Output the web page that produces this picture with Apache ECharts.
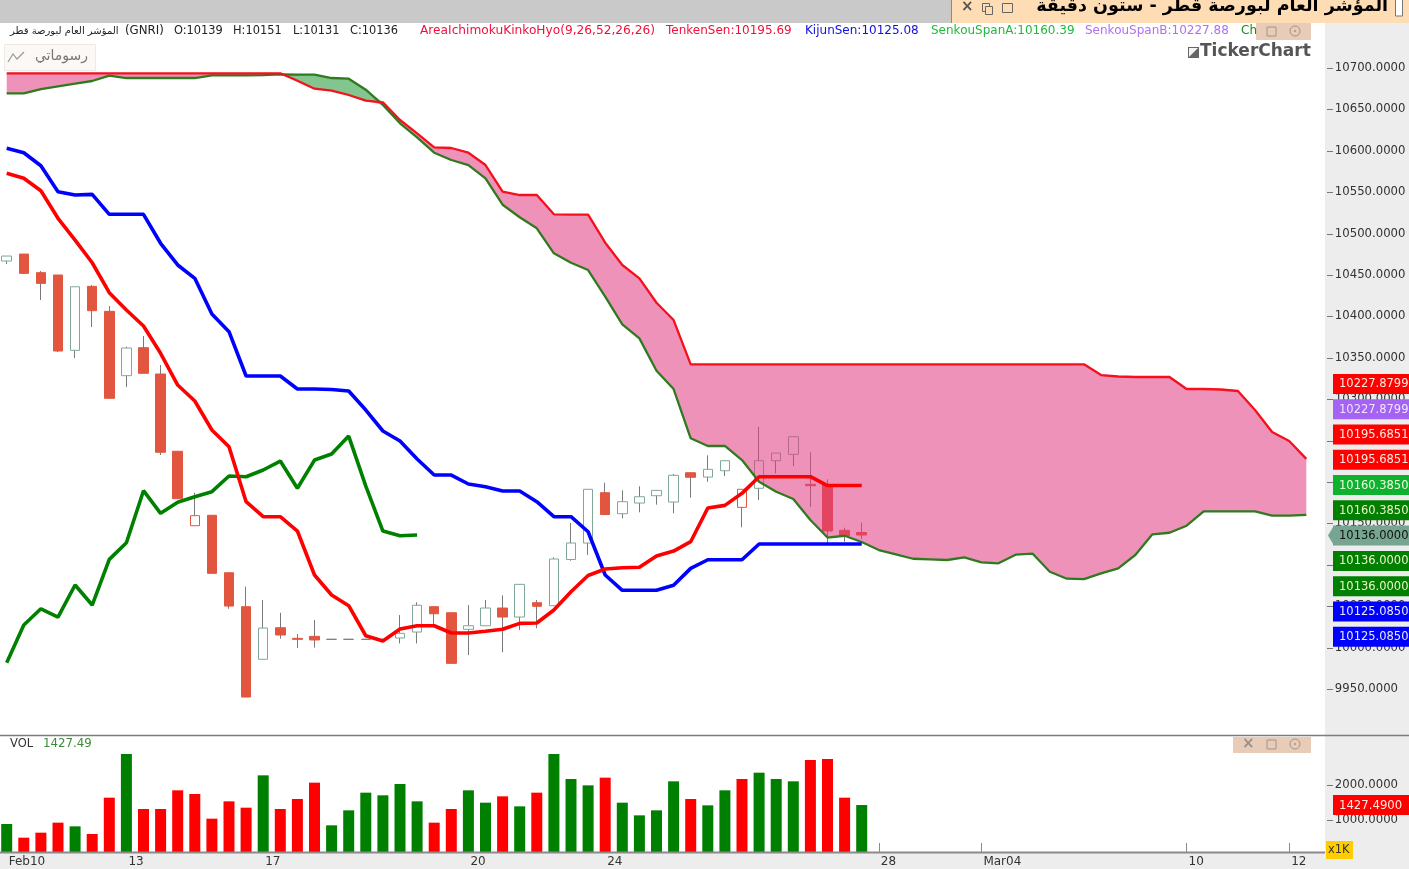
<!DOCTYPE html>
<html lang="ar">
<head>
    <meta charset="UTF-8">
    <title>GNRI Ichimoku</title>
    <script src="https://cdn.jsdelivr.net/npm/echarts@6/dist/echarts.min.js"></script>
    <style>
        html, body { margin: 0; height: 100%; background: #fff; overflow: hidden; }
        #chart { width: 1409px; height: 869px; }
    </style>
</head>
<body>
<div id="chart"></div>
<script>
    // candle values
    var opens = [10466.9, 10475.3, 10452.8, 10450, 10359, 10436.3, 10406.1, 10328.4, 10362.2, 10330.4, 10237.1, 10147.2, 10159.8, 10090.4, 10049.4, 9985.9, 10024, 10011.2, 10013.6, 10010, 10010, 10010, 10010, 10011.6, 10018.8, 10049.4, 10042.1, 10022.1, 10026.4, 10047.8, 10036.9, 10054.2, 10050.6, 10106.4, 10126.3, 10187.1, 10161.7, 10174.6, 10183.4, 10175.8, 10211.2, 10206, 10213.6, 10169.4, 10192.4, 10225.7, 10233.4, 10197.2, 10196.4, 10141.6, 10139];
    var closes = [10472.9, 10452, 10439.9, 10358.2, 10435.8, 10406.9, 10301.1, 10361.8, 10331.3, 10235.9, 10179.8, 10159.3, 10089.7, 10050.2, 9940.3, 10023.6, 10015.2, 10010, 10009.2, 10010, 10010, 10010, 10010, 10017.2, 10051.1, 10040.9, 9981, 10026.4, 10047.8, 10036.9, 10076.4, 10049.9, 10107, 10126.3, 10191.2, 10160.7, 10176.2, 10182.2, 10189.9, 10208.1, 10205.7, 10215.3, 10225.7, 10191.2, 10225.7, 10235, 10254.7, 10195.5, 10140.8, 10134.8, 10136];
    var lows = [10463.3, 10451.2, 10419.8, 10357, 10349.7, 10387.2, 10301.1, 10314.7, 10331.3, 10232.6, 10179.8, 10147.2, 10089.7, 10046.9, 9940.3, 9985.9, 10010.7, 9999.5, 9999.9, 10010, 10010, 10010, 10010, 10005.1, 10005.1, 10027.3, 9981, 9991, 10026.4, 9994.3, 10021.2, 10023.3, 10050.6, 10104.9, 10111.8, 10160.7, 10156.1, 10163.4, 10172.6, 10162.2, 10181, 10200.3, 10207.2, 10145.3, 10178.2, 10210.5, 10219.3, 10170.1, 10126, 10127.9, 10131];
    var highs = [10472.9, 10475.3, 10454.8, 10450, 10435.8, 10437.9, 10412.5, 10363.4, 10376.3, 10341.3, 10237.1, 10187.1, 10159.8, 10090.4, 10073.5, 10057.5, 10042.1, 10016.4, 10033.3, 10010, 10010, 10010, 10010, 10039.3, 10054.7, 10049.4, 10042.1, 10051.4, 10057.5, 10063.1, 10076.4, 10057.5, 10109, 10150.5, 10191.2, 10199.1, 10189.9, 10194.8, 10189.9, 10209.6, 10211.2, 10232.2, 10225.7, 10191.2, 10266.8, 10235, 10254.7, 10235.8, 10203.2, 10144.8, 10151];
    var hollowRed = [11, 43];
    var flatCandles = [19, 20, 21, 22];

    // ichimoku lines
    var tenkan = [10572.8, 10566.8, 10551.8, 10518.5, 10492.2, 10464.8, 10428.6, 10407.7, 10388.4, 10355.4, 10317.1, 10297.8, 10262.8, 10242.6, 10176.2, 10158.1, 10158.1, 10140.8, 10087.7, 10063.5, 10050.6, 10014.3, 10007.9, 10022.4, 10026.4, 10026.4, 10017.6, 10017.6, 10019.7, 10022.1, 10029.3, 10029.7, 10045.4, 10067.5, 10087.1, 10094.9, 10096.5, 10097, 10110.6, 10116.6, 10127.9, 10168.6, 10171.8, 10186.3, 10206.4, 10206.4, 10206.4, 10206.4, 10195.69, 10195.69, 10195.69];
    var kijun = [10603, 10597.7, 10582, 10550.6, 10546.6, 10547.4, 10523.3, 10523.3, 10523.3, 10488.3, 10462.1, 10446, 10402.9, 10381.5, 10328, 10328, 10328, 10312.3, 10312.3, 10311.7, 10309.9, 10286.9, 10261.6, 10249.5, 10227.8, 10208.4, 10208.4, 10197.6, 10194.3, 10189.1, 10189.1, 10176.2, 10158.1, 10158.1, 10139.9, 10087.7, 10069.2, 10069.2, 10069.2, 10075.2, 10095.7, 10106.1, 10106.1, 10106.1, 10125.08, 10125.08, 10125.08, 10125.08, 10125.08, 10125.08, 10125.08];
    var chikou = [9981.7, 10027.3, 10046.9, 10036.9, 10075.6, 10051.4, 10106.6, 10126.7, 10189.5, 10162.2, 10175.5, 10182.2, 10188.3, 10207.2, 10206.4, 10214.5, 10225.3, 10192.4, 10226.5, 10233.8, 10255.5, 10195.1, 10140.8, 10135.1, 10136];
    var spanA = [10669.4, 10669.4, 10674.6, 10677.9, 10681, 10684.3, 10690.7, 10687.9, 10687.9, 10687.9, 10687.9, 10687.9, 10691.2, 10691.2, 10691.2, 10691.5, 10692.4, 10691.9, 10691.9, 10687.9, 10687.1, 10673.8, 10655.3, 10633.2, 10616.3, 10597.7, 10588.9, 10582.8, 10566.8, 10534.9, 10519.7, 10506.4, 10476.2, 10464.8, 10456, 10423.8, 10390.4, 10373.5, 10334.4, 10312.3, 10252.8, 10243.5, 10243.5, 10226.5, 10200.3, 10188.3, 10179.4, 10154.1, 10132.9, 10135.1, 10127.5, 10117.8, 10112.6, 10107.3, 10106.6, 10105.8, 10109, 10103, 10101.8, 10112.2, 10113.4, 10091.6, 10083.2, 10082.8, 10089.7, 10095.7, 10111.8, 10136.8, 10138.7, 10147.2, 10164.6, 10164.6, 10164.6, 10164.6, 10159.3, 10159.3, 10160.39];
    var spanB = [10693.6, 10693.6, 10693.6, 10693.6, 10693.6, 10693.6, 10693.6, 10693.6, 10693.6, 10693.6, 10693.6, 10693.6, 10693.6, 10693.6, 10693.6, 10693.6, 10693.6, 10684.6, 10675, 10672.6, 10667.4, 10660.5, 10658.5, 10637.2, 10621.1, 10604.2, 10603.4, 10597.7, 10582.8, 10550.6, 10546.6, 10546.6, 10523.3, 10522.8, 10522.8, 10489, 10462.1, 10446, 10416.5, 10395.6, 10342.1, 10342.1, 10342.1, 10342.1, 10342.1, 10342.1, 10342.1, 10342.1, 10342.1, 10342.1, 10342.1, 10342.1, 10342.1, 10342.1, 10342.1, 10342.1, 10342.1, 10342.1, 10342.1, 10342.1, 10342.1, 10342.1, 10342.1, 10342.1, 10329.2, 10327.4, 10326.8, 10326.8, 10326.8, 10312.3, 10312.3, 10311.7, 10309.9, 10286.9, 10260.4, 10249.5, 10227.88];

    // volume, 1 = green bar, 0 = red bar
    var volumes = [886, 495, 638, 924, 819, 600, 1638, 2886, 1314, 1314, 1848, 1743, 1038, 1533, 1352, 2276, 1314, 1600, 2067, 848, 1276, 1781, 1705, 2029, 1533, 924, 1314, 1848, 1495, 1676, 1390, 1781, 2886, 2171, 1990, 2210, 1495, 1133, 1276, 2105, 1600, 1419, 1848, 2171, 2352, 2171, 2105, 2714, 2743, 1638, 1427.49];
    var volumeUp = [1, 0, 0, 0, 1, 0, 0, 1, 0, 0, 0, 0, 0, 0, 0, 1, 0, 0, 0, 1, 1, 1, 1, 1, 1, 0, 0, 1, 1, 0, 1, 0, 1, 1, 1, 0, 1, 1, 1, 1, 0, 1, 1, 0, 1, 1, 1, 0, 0, 0, 1];

    // axis ticks
    var priceTicks = [9950, 10000, 10050, 10100, 10150, 10200, 10250, 10300, 10350, 10400, 10450, 10500, 10550, 10600, 10650, 10700];
    var volumeTicks = [1000, 2000];
    var dateTickIndex = [0, 7, 15, 27, 35, 51, 57, 69, 75];
    var dateTickLabels = ['Feb10', '13', '17', '20', '24', '28', 'Mar04', '10', '12'];

    // price tags on the right, top to bottom
    var tagTexts = ['10227.8799', '10227.8799', '10195.6851', '10195.6851', '10160.3850', '10160.3850', '10136.0000', '10136.0000', '10136.0000', '10125.0850', '10125.0850'];
    var tagColors = ['#ff0000', '#a463f2', '#ff0000', '#ff0000', '#10b12e', '#007f00', '#76a592', '#007f00', '#007f00', '#0000ff', '#0000ff'];
    var tagTextColors = ['#ffe8e0', '#f0e4ff', '#ffe8e0', '#ffe8e0', '#eaffe0', '#eaf6c8', '#111111', '#eaf6c8', '#eaf6c8', '#e8e8ff', '#e8e8ff'];

    var FONT = '"DejaVu Sans", sans-serif';
    var categories = [];
    for (var c = 0; c < 77; c++) {
        var pos = dateTickIndex.indexOf(c);
        categories.push(pos >= 0 ? dateTickLabels[pos] : String(c));
    }
    function isDateTick(i) { return dateTickIndex.indexOf(i) >= 0; }
    function axisText(list) {
        return function (v) { return list.indexOf(v) >= 0 ? v.toFixed(4) : ''; };
    }

    var wickData = opens.map(function (o, i) { return [o, closes[i], lows[i], highs[i]]; });
    var bodyData = opens.map(function (o, i) {
        var item = { value: [o, closes[i], Math.min(o, closes[i]), Math.max(o, closes[i])] };
        if (hollowRed.indexOf(i) >= 0) {
            item.itemStyle = { color: '#fff', color0: '#fff', borderColor: '#e2553f', borderColor0: '#e2553f' };
        }
        if (flatCandles.indexOf(i) >= 0) {
            item.itemStyle = { color: '#fff', color0: '#fff', borderColor: '#777f7a', borderColor0: '#777f7a' };
        }
        return item;
    });

    // cloud is stacked: lower edge, then the pink part, then the green part
    var cloudBase = spanA.map(function (a, i) { return Math.min(a, spanB[i]); });
    var cloudPink = spanA.map(function (a, i) { return Math.max(spanB[i] - a, 0); });
    var cloudGreen = spanA.map(function (a, i) { return Math.max(a - spanB[i], 0); });

    function txt(x, y, text, color, size, extra) {
        var style = { text: text, x: x, y: y, fill: color, font: (size || 11) + 'px ' + FONT, textVerticalAlign: 'middle' };
        for (var k in extra) style[k] = extra[k];
        return { type: 'text', z: 50, silent: true, style: style };
    }
    function box(x, y, w, h, fill, z, stroke) {
        return { type: 'rect', z: z, silent: true, shape: { x: x, y: y, width: w, height: h }, style: { fill: fill, stroke: stroke || null } };
    }
    function hline(x1, x2, y, color, w) {
        return { type: 'line', z: 40, silent: true, shape: { x1: x1, y1: y, x2: x2, y2: y }, style: { stroke: color, lineWidth: w } };
    }
    function winButtons(x, y, withClose) {
        var out = [];
        if (withClose) out.push(txt(x - 25, y, '×', '#9a8f86', 15, { font: 'bold 15px ' + FONT }));
        out.push({ type: 'rect', z: 51, silent: true, shape: { x: x, y: y - 4, width: 9, height: 9 }, style: { fill: 'none', stroke: '#a09488' } });
        out.push({ type: 'circle', z: 51, silent: true, shape: { cx: x + 28, cy: y, r: 5 }, style: { fill: 'none', stroke: '#a09488' } });
        out.push({ type: 'circle', z: 51, silent: true, shape: { cx: x + 28, cy: y, r: 1 }, style: { fill: '#a09488' } });
        return out;
    }

    var graphics = [
        box(1325, 23, 84, 846, '#ededed', -1),
        box(0, 853, 1409, 16, '#ededed', -1),
        box(0, 853, 1325, 2, '#ededed', 39),      // hides the foot of the volume bars below the axis line
        box(0, 0, 952, 23, '#c9c9c9', 40),
        box(952, 0, 457, 23, '#fedcb4', 40),
        { type: 'line', z: 41, silent: true, shape: { x1: 951.5, y1: 0, x2: 951.5, y2: 23 }, style: { stroke: '#8a8a8a', lineWidth: 1 } },
        txt(961, 7, '×', '#555', 15, { font: 'bold 15px ' + FONT }),
        box(982.5, 3.5, 7, 8, 'none', 41, '#666'),
        box(985.5, 6.5, 7, 8, '#fedcb4', 41, '#666'),
        box(1002.5, 3.5, 10, 9, 'none', 41, '#666'),
        txt(1388, 6, 'المؤشر العام لبورصة قطر - ستون دقيقة', '#000', 17.5, { font: 'bold 17.5px ' + FONT, textAlign: 'right' }),
        box(1395.5, -2, 7, 18, '#fff', 41, '#777'),
        hline(0, 1409, 735.5, '#7d7d7d', 1.5),
        hline(0, 1325, 852.5, '#8a8a8a', 2),

        txt(10, 31, 'المؤشر العام لبورصة قطر', '#222', 10),
        txt(125, 31, '(GNRI)', '#222', 11.8),
        txt(174, 31, 'O:10139', '#222', 11.4),
        txt(233, 31, 'H:10151', '#222', 11.4),
        txt(293, 31, 'L:10131', '#222', 11.4),
        txt(350, 31, 'C:10136', '#222', 11.4),
        txt(420, 31, 'AreaIchimokuKinkoHyo(9,26,52,26,26)', '#f0103c', 12.2),
        txt(666, 31, 'TenkenSen:10195.69', '#f0103c', 12),
        txt(805, 31, 'KijunSen:10125.08', '#1010e0', 12),
        txt(931, 31, 'SenkouSpanA:10160.39', '#22b83c', 12),
        txt(1085, 31, 'SenkouSpanB:10227.88', '#b070f0', 12),
        txt(1241, 31, 'Ch', '#1a8a1a', 12),
        box(1256, 23, 55, 17, '#e8ccb8', 45),

        box(4.5, 44.5, 91, 26, '#fbf8f5', 45, '#efe9e3'),
        { type: 'polyline', z: 50, silent: true, shape: { points: [[8, 62], [13, 54], [17, 59], [24, 52]] }, style: { fill: 'none', stroke: '#999', lineWidth: 1.2 } },
        txt(88, 56, 'رسوماتي', '#777', 14, { textAlign: 'right' }),

        box(1188, 47, 11, 11, '#666', 50),
        { type: 'polygon', z: 51, silent: true, shape: { points: [[1189, 57], [1198, 48], [1189, 48]] }, style: { fill: '#f4f4f4' } },
        txt(1200, 52, 'TickerChart', '#555', 17, { font: 'bold 17px ' + FONT }),

        txt(10, 744, 'VOL', '#333', 11.5),
        txt(43, 744, '1427.49', '#3c8c3c', 11.8),
        box(1233, 737, 78, 16, '#e8ccb8', 45),

        box(1326, 841, 27, 18, '#ffcc00', 45),
        txt(1328, 850, 'x1K', '#333', 11.5),
        box(1333, 795, 76, 20, '#ff0000', 45),
        txt(1339, 805.5, '1427.4900', '#ffe8e0', 11.7)
    ];
    graphics = graphics.concat(winButtons(1267, 31, false), winButtons(1267, 744, true));

    tagTexts.forEach(function (t, i) {
        var yc = 384 + i * 25.27;
        graphics.push(box(1333, yc - 10, 76, 20, tagColors[i], 45));
        if (i === 6) {
            graphics.push({ type: 'polygon', z: 45, silent: true, shape: { points: [[1328, yc], [1334, yc - 10], [1334, yc + 10]] }, style: { fill: tagColors[i] } });
        }
        graphics.push(txt(1339, yc + 0.5, t, tagTextColors[i], 11.5));
    });

    var chart = echarts.init(document.getElementById('chart'));
    var option = {
        animation: false,
        backgroundColor: '#fff',
        textStyle: { fontFamily: FONT },
        grid: [
            { left: -1.85, right: 94.15, top: 26.6, height: 703.8, outerBoundsMode: 'none' },
            { left: -1.85, right: 94.15, top: 736, height: 119, outerBoundsMode: 'none' }
        ],
        xAxis: [
            { type: 'category', gridIndex: 0, data: categories, show: false },
            {
                type: 'category', gridIndex: 1, data: categories,
                axisLine: { show: false },
                axisTick: { show: true, inside: true, length: 12, alignWithLabel: true, interval: isDateTick, lineStyle: { color: '#8a8a8a' } },
                axisLabel: {
                    interval: isDateTick, align: 'left', margin: 1, padding: [0, 0, 0, 2],
                    verticalAlign: 'top', color: '#333', fontSize: 12, fontFamily: FONT
                }
            }
        ],
        yAxis: [
            {
                type: 'value', gridIndex: 0, position: 'right', offset: 10, min: 9900, max: 10750, interval: 50, z: 5,
                splitLine: { show: false }, axisLine: { show: false }, axisTick: { show: false },
                axisLabel: {
                    margin: 10, color: '#333', fontSize: 11.7, fontFamily: FONT,
                    formatter: axisText(priceTicks)
                }
            },
            {
                type: 'value', gridIndex: 1, position: 'right', offset: 10, min: 0, max: 3400, interval: 1000, z: 5,
                splitLine: { show: false }, axisLine: { show: false }, axisTick: { show: false },
                axisLabel: {
                    margin: 10, color: '#333', fontSize: 11.7, fontFamily: FONT,
                    formatter: axisText(volumeTicks)
                }
            }
        ],
        graphic: { elements: graphics },
        series: [
            {
                name: 'Wicks', type: 'candlestick', z: 2, barWidth: 1, data: wickData,
                itemStyle: { color: '#7a7a7a', color0: '#7a7a7a', borderColor: '#7a7a7a', borderColor0: '#7a7a7a', borderWidth: 1 }
            },
            {
                name: 'GNRI', type: 'candlestick', z: 3, barWidth: 10, data: bodyData,
                itemStyle: { color: '#ffffff', color0: '#e2553f', borderColor: '#7fa898', borderColor0: '#e2553f', borderWidth: 1 }
            },
            { name: 'CloudBase', type: 'line', z: 4, stack: 'cloud', data: cloudBase, showSymbol: false, lineStyle: { width: 0 } },
            { name: 'CloudPink', type: 'line', z: 4, stack: 'cloud', data: cloudPink, showSymbol: false, lineStyle: { width: 0 }, areaStyle: { color: 'rgba(225,56,127,0.55)', opacity: 1 } },
            { name: 'CloudGreen', type: 'line', z: 4, stack: 'cloud', data: cloudGreen, showSymbol: false, lineStyle: { width: 0 }, areaStyle: { color: 'rgba(30,150,50,0.55)', opacity: 1 } },
            { name: 'SenkouSpanA', type: 'line', z: 5, data: spanA, showSymbol: false, lineStyle: { color: '#2f7a1f', width: 2.3 } },
            { name: 'SenkouSpanB', type: 'line', z: 5, data: spanB, showSymbol: false, lineStyle: { color: '#f5101c', width: 2.3 } },
            { name: 'Chikou', type: 'line', z: 6, data: chikou, showSymbol: false, lineStyle: { color: '#008000', width: 3.6 } },
            { name: 'KijunSen', type: 'line', z: 6, data: kijun, showSymbol: false, lineStyle: { color: '#0000ff', width: 3.6 } },
            { name: 'TenkenSen', type: 'line', z: 6, data: tenkan, showSymbol: false, lineStyle: { color: '#ff0000', width: 3.6 } },
            {
                name: 'VOL', type: 'bar', xAxisIndex: 1, yAxisIndex: 1, barWidth: 11,
                data: volumes.map(function (v, i) {
                    return { value: v, itemStyle: { color: volumeUp[i] ? '#008000' : '#ff0000' } };
                })
            }
        ]
    };
    chart.setOption(option);

    // tick marks of the right axes, placed through the axes' own scales
    function tickMark(axisIndex, v) {
        var y = Math.round(chart.convertToPixel({ yAxisIndex: axisIndex }, v)) + 0.5;
        return { type: 'line', z: 41, silent: true, shape: { x1: 1327, y1: y, x2: 1333, y2: y }, style: { stroke: '#777', lineWidth: 1 } };
    }
    var marks = priceTicks.map(function (v) { return tickMark(0, v); })
        .concat(volumeTicks.map(function (v) { return tickMark(1, v); }));
    chart.setOption({ graphic: { elements: graphics.concat(marks) } });
</script>
</body>
</html>
